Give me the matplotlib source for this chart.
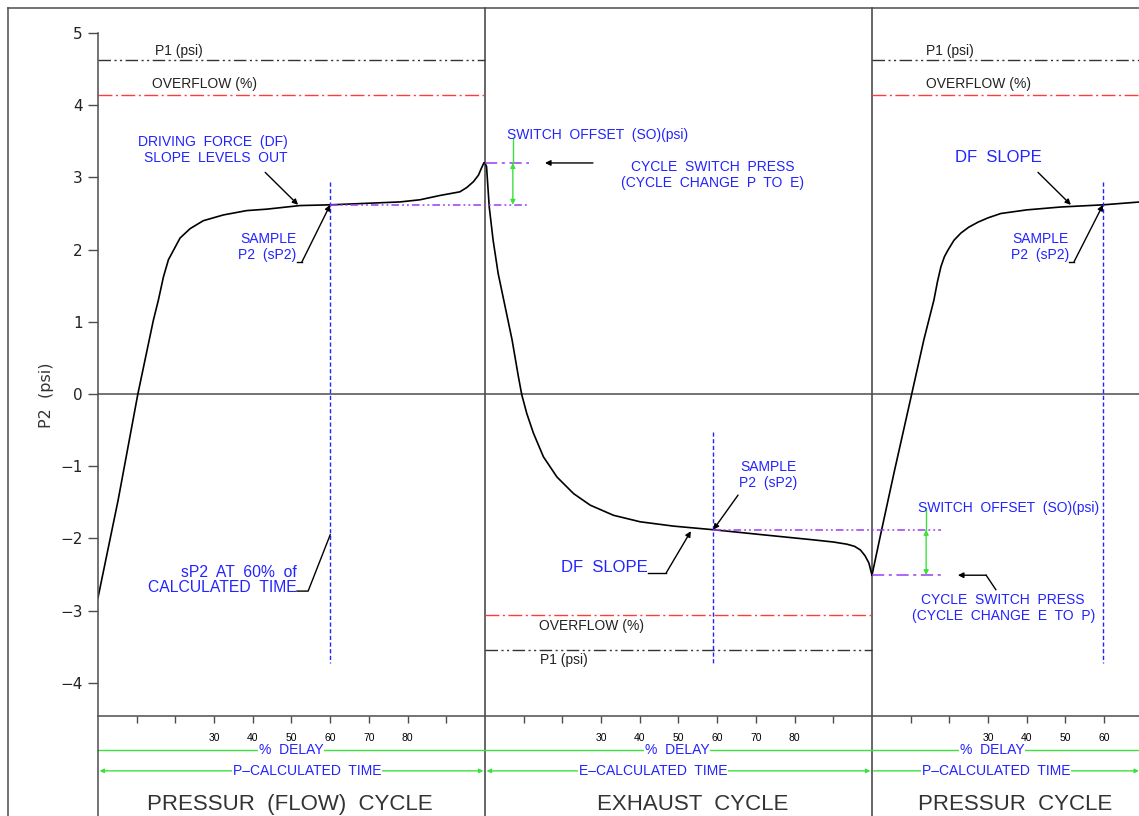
import matplotlib.pyplot as plt
from matplotlib.lines import Line2D

# P2 (psi); x is % of calculated time, the three cycles laid end to end
press_x = [0, 5.2, 10.3, 14.3, 15.6, 16.9, 18.2, 19.5, 21.2, 23.8, 27.2, 32.4, 38.4, 43.6, 52.2,
           60, 69, 78, 83.2, 88.4, 93.5, 95.3, 97.0, 98.3, 99.1, 99.7]
press_y = [-2.82, -1.47, 0.0, 1.02, 1.30, 1.62, 1.86, 1.99, 2.16, 2.29, 2.40, 2.48, 2.54, 2.56, 2.61,
           2.62, 2.64, 2.66, 2.69, 2.75, 2.80, 2.86, 2.94, 3.03, 3.13, 3.20]

exh_x = [100, 100.4, 101.1, 102.1, 103.4, 105.2, 107.0, 108.6, 109.5, 110.8, 112.5, 115.1, 118.6,
         122.9, 127.2, 133.2, 140.1, 148.7, 159, 171.8, 184.8, 190, 193.5, 195.5, 197, 198.2,
         199.2, 200]
exh_y = [3.20, 3.15, 2.59, 2.13, 1.67, 1.21, 0.75, 0.25, -0.01, -0.27, -0.54, -0.87, -1.15,
         -1.38, -1.54, -1.68, -1.77, -1.83, -1.88, -1.95, -2.02, -2.05, -2.08, -2.11, -2.16, -2.24,
         -2.34, -2.51]

press2_x = [200, 202.3, 205.7, 210.1, 213.4, 216.0, 216.9, 217.8, 218.7, 219.6, 221.2, 223.0,
            225.0, 227.4, 230.0, 233.3, 240.0, 248.8, 259.7, 269.3]
press2_y = [-2.51, -1.93, -1.09, -0.04, 0.75, 1.30, 1.55, 1.76, 1.90, 1.99, 2.13, 2.23,
            2.31, 2.38, 2.44, 2.50, 2.55, 2.59, 2.62, 2.66]

# reference levels (psi)
p1_high = 4.63
overflow_high = 4.14
overflow_low = -3.06
p1_low = -3.55

# sample points (60% of calculated time)
sample_x = [60, 159, 259.7]
sample_y = [2.62, -1.88, 2.62]

delay_ticks = [10, 20, 30, 40, 50, 60, 70, 80, 90]
delay_labels = ['', '', '30', '40', '50', '60', '70', '80', '']
cycle_names = ['PRESSUR  (FLOW)  CYCLE', 'EXHAUST  CYCLE', 'PRESSUR  CYCLE']
calc_names = ['P\u2013CALCULATED  TIME', 'E\u2013CALCULATED  TIME', 'P\u2013CALCULATED  TIME']

BLUE = '#2323ff'
GREEN = '#3ee03e'
PURPLE = '#9a3cf5'
RED = '#ff3b3b'
GRAY = '#4d4d4d'
CAD = 'Liberation Sans'

XMAX = 269.0
YBOT, YTOP = -5.845, 5.457
Y_AXIS = -4.46
Y_FRAME = 5.346

fig = plt.figure(figsize=(11.39, 8.16), dpi=100)
ax = fig.add_axes([98 / 1139, 0, 1041 / 1139, 1])
ax.set_xlim(0, XMAX)
ax.set_ylim(YBOT, YTOP)

# outer border of the drawing
fig.add_artist(Line2D([8 / 1139, 1], [1 - 8 / 816] * 2, color=GRAY, lw=1.1))
fig.add_artist(Line2D([8 / 1139] * 2, [0, 1 - 8 / 816], color=GRAY, lw=1.1))

for s in ['top', 'right']:
    ax.spines[s].set_visible(False)
ax.spines['left'].set_bounds(YBOT, 5)
ax.spines['left'].set_color(GRAY)
ax.spines['left'].set_linewidth(1.1)
ax.spines['bottom'].set_position(('data', Y_AXIS))
ax.spines['bottom'].set_color(GRAY)
ax.spines['bottom'].set_linewidth(1.1)

ax.set_yticks(range(-4, 6))
ax.tick_params(axis='y', length=7, width=1, colors=GRAY, labelcolor='#222222', labelsize=11, pad=4)

xt, xl = [], []
for c in range(3):
    for t, lab in zip(delay_ticks, delay_labels):
        if c * 100 + t <= XMAX:
            xt.append(c * 100 + t)
            xl.append(lab)
ax.set_xticks(xt)
ax.set_xticklabels(xl, fontfamily=CAD)
ax.tick_params(axis='x', direction='out', length=5, width=1, colors=GRAY, labelcolor='black',
               labelsize=7.5, pad=7)

fig.text(47 / 1139, 1 - 395 / 816, 'P2  (psi)', rotation=90, ha='center', va='center',
         fontsize=11.5, color='#333333')

# zero line and cycle dividers
ax.axhline(0, color=GRAY, lw=1.1)
for xd in [100, 200]:
    ax.plot([xd, xd], [YBOT, Y_FRAME], color=GRAY, lw=1.2, clip_on=False)

# P2 curve
for xs, ys in [(press_x, press_y), (exh_x, exh_y), (press2_x, press2_y)]:
    ax.plot(xs, ys, color='black', lw=1.2, solid_joinstyle='round')

# P1 / overflow levels
dash_p1 = (9, 2.5, 1.5, 2.5, 1.5, 2.5)
dash_of = (10, 2.5, 1.5, 2.5)
for x0, x1, yp, yo in [(0, 100, p1_high, overflow_high), (200, XMAX, p1_high, overflow_high),
                       (100, 200, p1_low, overflow_low)]:
    ax.plot([x0, x1], [yp, yp], color='#333333', lw=1, dashes=dash_p1)
    ax.plot([x0, x1], [yo, yo], color=RED, lw=1, dashes=dash_of)

lvl_font = dict(fontfamily=CAD, fontsize=10, color='#222222')
ax.text(14.7, 4.66, 'P1 (psi)', va='bottom', **lvl_font)
ax.text(14.0, 4.19, 'OVERFLOW (%)', va='bottom', **lvl_font)
ax.text(214, 4.66, 'P1 (psi)', va='bottom', **lvl_font)
ax.text(214, 4.19, 'OVERFLOW (%)', va='bottom', **lvl_font)
ax.text(114, -3.11, 'OVERFLOW (%)', va='top', **lvl_font)
ax.text(114.2, -3.59, 'P1 (psi)', va='top', **lvl_font)

# sample lines
for sx, ytop in zip(sample_x, [2.94, -0.53, 2.94]):
    ax.plot([sx, sx], [ytop, -3.73], color=BLUE, lw=1, dashes=(3, 1.8))

# switch offsets
up_dash = (8, 3, 2, 3)
lo_dash = (5, 2, 1.2, 2, 1.2, 2)
ax.plot([100, 111.3], [press_y[-1]] * 2, color=PURPLE, lw=1.1, dashes=up_dash)
ax.plot([sample_x[0], 111.3], [sample_y[0]] * 2, color=PURPLE, lw=1.1, dashes=lo_dash)
ax.plot([sample_x[1], 217.8], [sample_y[1]] * 2, color=PURPLE, lw=1.1, dashes=lo_dash)
ax.plot([200, 217.8], [exh_y[-1]] * 2, color=PURPLE, lw=1.1, dashes=up_dash)

green_arrow = dict(arrowstyle='<|-|>', color=GREEN, lw=1, mutation_scale=7, shrinkA=0, shrinkB=0)
ax.plot([107.2, 107.2], [3.55, press_y[-1]], color=GREEN, lw=1)
ax.annotate('', xy=(107.2, press_y[-1]), xytext=(107.2, sample_y[0]), arrowprops=green_arrow)
ax.plot([214.0, 214.0], [-1.58, sample_y[1]], color=GREEN, lw=1)
ax.annotate('', xy=(214.0, sample_y[1]), xytext=(214.0, exh_y[-1]), arrowprops=green_arrow)

black_arrow = dict(arrowstyle='-|>', color='black', lw=1, mutation_scale=8, shrinkA=0, shrinkB=0)
ax.annotate('', xy=(115.5, press_y[-1]), xytext=(127.9, press_y[-1]), arrowprops=black_arrow)
ax.plot([229.5, 232.0], [exh_y[-1], -2.71], color='black', lw=1)
ax.annotate('', xy=(222.2, exh_y[-1]), xytext=(229.5, exh_y[-1]), arrowprops=black_arrow)

note = dict(fontfamily=CAD, fontsize=10, color=BLUE, linespacing=1.15)
ax.text(105.7, 3.59, 'SWITCH  OFFSET  (SO)(psi)', va='center', **note)
ax.text(158.9, 3.03, 'CYCLE  SWITCH  PRESS\n(CYCLE  CHANGE  P  TO  E)', ha='center', va='center',
        multialignment='center', **note)
ax.text(211.9, -1.58, 'SWITCH  OFFSET  (SO)(psi)', va='center', **note)
ax.text(233.9, -2.96, 'CYCLE  SWITCH  PRESS\n(CYCLE  CHANGE  E  TO  P)', ha='center', va='center',
        multialignment='center', **note)

# driving force notes
ax.text(49.1, 3.38, 'DRIVING  FORCE  (DF)\nSLOPE  LEVELS  OUT', ha='right', va='center',
        multialignment='right', **note)
ax.annotate('', xy=(51.7, 2.62), xytext=(43.2, 3.07), arrowprops=black_arrow)
ax.text(232.6, 3.28, 'DF  SLOPE', ha='center', va='center', fontfamily=CAD, fontsize=12, color=BLUE)
ax.annotate('', xy=(251.4, 2.62), xytext=(242.9, 3.07), arrowprops=black_arrow)
ax.text(142.1, -2.41, 'DF  SLOPE', ha='right', va='center', fontfamily=CAD, fontsize=12, color=BLUE)
ax.plot([142.1, 146.8], [-2.48, -2.48], color='black', lw=1)
ax.annotate('', xy=(153.2, -1.90), xytext=(146.8, -2.48), arrowprops=black_arrow)

# sample notes
for tx, ty, lx0, lx1, ly, i in [(51.2, 2.04, 51.4, 52.7, 1.83, 0), (250.9, 2.04, 250.9, 252.2, 1.83, 2)]:
    ax.text(tx, ty, 'SAMPLE\nP2  (sP2)', ha='right', va='center', multialignment='right', **note)
    ax.plot([lx0, lx1], [ly, ly], color='black', lw=1)
    ax.annotate('', xy=(sample_x[i], sample_y[i]), xytext=(lx1, ly), arrowprops=black_arrow)
ax.text(180.6, -1.12, 'SAMPLE\nP2  (sP2)', ha='right', va='center', multialignment='right', **note)
ax.annotate('', xy=(sample_x[1], sample_y[1]), xytext=(165.4, -1.40), arrowprops=black_arrow)

ax.text(51.4, -2.58, 'sP2  AT  60%  of\nCALCULATED  TIME', ha='right', va='center',
        multialignment='right', fontfamily=CAD, fontsize=11.3, color=BLUE, linespacing=1.0)
ax.plot([51.4, 54.3, 60], [-2.73, -2.73, -1.95], color='black', lw=1)

# bottom dimension rows
box = dict(facecolor='white', edgecolor='none', pad=0.5)
ax.plot([0, XMAX], [-4.93, -4.93], color=GREEN, lw=1, clip_on=False)
for cx in [49.9, 149.6, 231.0]:
    ax.text(cx, -4.93, '%  DELAY', ha='center', va='center', bbox=box, **note)

calc_arrow = dict(arrowstyle='<|-|>', color=GREEN, lw=1, mutation_scale=6, shrinkA=0, shrinkB=0)
ax.annotate('', xy=(0.4, -5.22), xytext=(99.6, -5.22), arrowprops=calc_arrow)
ax.annotate('', xy=(100.4, -5.22), xytext=(199.6, -5.22), arrowprops=calc_arrow)
ax.annotate('', xy=(200.4, -5.22), xytext=(XMAX, -5.22),
            arrowprops=dict(calc_arrow, arrowstyle='<|-'))
for cx, name in zip([54.0, 143.4, 232.0], calc_names):
    ax.text(cx, -5.22, name, ha='center', va='center', bbox=box, **note)

for cx, name in zip([49.6, 153.7, 237.0], cycle_names):
    ax.text(cx, -5.69, name, ha='center', va='center', fontfamily=CAD, fontsize=16, color='#333333')

fig.savefig('out.png', dpi=100)
